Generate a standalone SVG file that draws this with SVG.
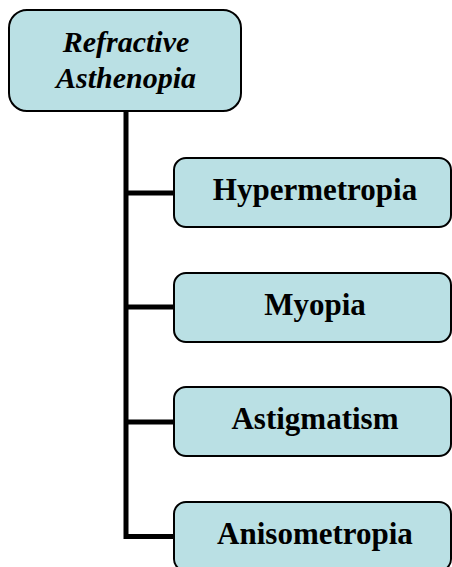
<svg xmlns="http://www.w3.org/2000/svg" width="452" height="567" viewBox="0 0 452 567">
<style>
.box{fill:#BAE0E4;stroke:#000;stroke-width:2}
.conn{stroke:#000;stroke-width:5;fill:none}
.lbl{font-family:"Liberation Serif","Times New Roman",serif;font-weight:bold;font-size:31px;fill:#000;text-anchor:middle}
.root{font-style:italic;font-size:30px}
</style>
<rect width="452" height="567" fill="#fff"/>
<g id="connectors">
<path class="conn" d="M126,111 V539 M123.5,536.5 H174 M126,193 H174 M126,307 H174 M126,422 H174"/>
</g>
<g id="root">
<rect class="box" x="9" y="10" width="232" height="101" rx="18"/>
<text class="lbl root" x="126" y="52">Refractive</text>
<text class="lbl root" x="126" y="88">Asthenopia</text>
</g>
<g id="hypermetropia">
<rect class="box" x="174" y="158" width="277" height="69" rx="12"/>
<text class="lbl" x="315" y="200">Hypermetropia</text>
</g>
<g id="myopia">
<rect class="box" x="174" y="273" width="277" height="69" rx="12"/>
<text class="lbl" x="315" y="315">Myopia</text>
</g>
<g id="astigmatism">
<rect class="box" x="174" y="387" width="277" height="69" rx="12"/>
<text class="lbl" x="315" y="429">Astigmatism</text>
</g>
<g id="anisometropia">
<rect class="box" x="174" y="502" width="277" height="69" rx="12"/>
<text class="lbl" x="315" y="544">Anisometropia</text>
</g>
</svg>
